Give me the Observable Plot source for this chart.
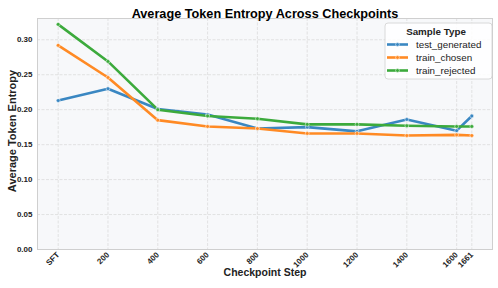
<!DOCTYPE html>
<html>
<head>
<meta charset="utf-8">
<script src="https://cdn.jsdelivr.net/npm/d3@7"></script>
<script src="https://cdn.jsdelivr.net/npm/@observablehq/plot@0.6"></script>
<style>
  html, body { margin: 0; padding: 0; background: #fff; }
  #chart svg { display: block; font-family: "Liberation Sans", Arial, sans-serif; }
</style>
</head>
<body>
<div id="chart"></div>
<script>
// ---- data ----
const steps = [0, 200, 400, 600, 800, 1000, 1200, 1400, 1600, 1661];
const stepLabels = ["SFT", "200", "400", "600", "800", "1000", "1200", "1400", "1600", "1661"];
const series = ["test_generated", "train_chosen", "train_rejected"];
const testGenerated = [0.213, 0.230, 0.201, 0.193, 0.173, 0.175, 0.169, 0.186, 0.170, 0.191];
const trainChosen   = [0.292, 0.246, 0.185, 0.176, 0.173, 0.166, 0.166, 0.163, 0.164, 0.163];
const trainRejected = [0.322, 0.269, 0.200, 0.191, 0.187, 0.179, 0.179, 0.177, 0.176, 0.176];
const yTicks = [0, 0.05, 0.10, 0.15, 0.20, 0.25, 0.30];
const colors = ["#3a87c2", "#ff8a24", "#3caa3c"];

const valuesBySeries = [testGenerated, trainChosen, trainRejected];
const rows = series.flatMap((s, i) => steps.map((x, j) => ({series: s, step: x, value: valuesBySeries[i][j]})));
const labelOf = new Map(steps.map((s, i) => [s, stepLabels[i]]));

const W = 498, H = 288;
const plot = Plot.plot({
  width: W, height: H,
  marginLeft: 37, marginRight: 6, marginTop: 18, marginBottom: 39,
  style: {fontFamily: '"Liberation Sans", Arial, sans-serif', background: "#fff"},
  x: {domain: [-83, 1744], label: null},
  y: {domain: [0, 0.3304], label: null},
  color: {domain: series, range: colors},
  marks: [
    Plot.frame({fill: "#f7f8fa", stroke: null}),
    Plot.gridX(steps, {stroke: "#dcdcdc", strokeOpacity: 1, strokeDasharray: "3,1.5", strokeWidth: 0.8}),
    Plot.gridY(yTicks, {stroke: "#dcdcdc", strokeOpacity: 1, strokeDasharray: "3,1.5", strokeWidth: 0.8}),
    Plot.frame({stroke: "#cfcfcf", strokeWidth: 1}),
    Plot.axisY(yTicks, {tickSize: 0, tickPadding: 5, tickFormat: d3.format(".2f"), fontSize: 8, fontWeight: "bold", fill: "#222", label: null}),
    Plot.axisX(steps, {tickSize: 0, tickPadding: 4, tickRotate: -45, tickFormat: d => labelOf.get(d), fontSize: 8, fontWeight: "bold", fill: "#222", label: null}),
    Plot.line(rows, {x: "step", y: "value", stroke: "series", strokeWidth: 2.6, curve: "linear"}),
    Plot.dot(rows, {x: "step", y: "value", fill: "series", r: 1.9, stroke: "white", strokeWidth: 0.5}),
    Plot.text(["Average Token Entropy Across Checkpoints"], {frameAnchor: "top", dy: -10, fontSize: 12.7, fontWeight: "bold", fill: "#000"}),
    Plot.text(["Checkpoint Step"], {frameAnchor: "bottom", dy: 26, fontSize: 10.5, fontWeight: "bold", fill: "#222"}),
    Plot.text(["Average Token Entropy"], {frameAnchor: "left", dx: -25, dy: -3, rotate: -90, textAnchor: "middle", fontSize: 11, fontWeight: "bold", fill: "#222"})
  ]
});
document.getElementById("chart").appendChild(plot);

// ---- legend ----
const svg = d3.select(plot);
const color = plot.scale("color");
const lg = svg.append("g").attr("transform", "translate(385,23)");
lg.append("rect").attr("width", 107).attr("height", 56).attr("rx", 3)
  .attr("fill", "#fff").attr("fill-opacity", 0.85).attr("stroke", "#d0d0d0").attr("stroke-width", 0.8);
lg.append("text").attr("x", 51).attr("y", 11.5).attr("text-anchor", "middle")
  .attr("font-size", 9.8).attr("font-weight", "bold").attr("fill", "#222").text("Sample Type");
series.forEach((s, i) => {
  const y = 21.5 + i * 13;
  const c = color.apply(s);
  lg.append("line").attr("x1", 2).attr("x2", 23).attr("y1", y).attr("y2", y).attr("stroke", c).attr("stroke-width", 2.6);
  lg.append("circle").attr("cx", 12.5).attr("cy", y).attr("r", 1.9).attr("fill", c).attr("stroke", "white").attr("stroke-width", 0.5);
  lg.append("text").attr("x", 31).attr("y", y + 3.3).attr("text-anchor", "start").attr("font-size", 9.8).attr("fill", "#222").text(s);
});
</script>
</body>
</html>
